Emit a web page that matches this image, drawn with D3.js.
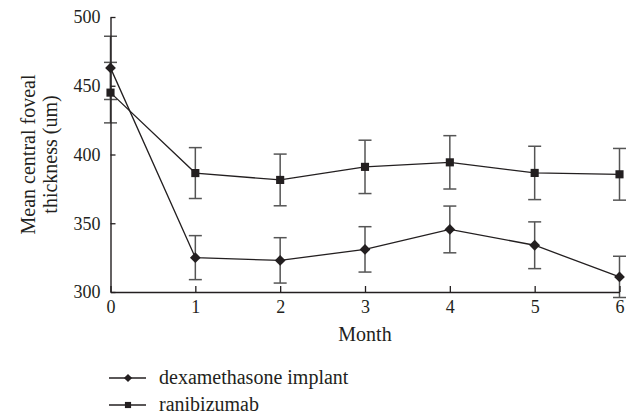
<!DOCTYPE html>
<html>
<head>
<meta charset="utf-8">
<script src="https://cdn.jsdelivr.net/npm/d3@7/dist/d3.min.js"></script>
<style>
  html, body { margin: 0; padding: 0; background: #fff; }
  svg { display: block; }
  text { font-family: "Liberation Serif", "DejaVu Serif", serif; fill: #231f20; }
</style>
</head>
<body>
<svg id="chart" width="635" height="414"></svg>
<script>
const months = [0, 1, 2, 3, 4, 5, 6];
const dexMean = [463, 325, 323, 331, 345.5, 334, 311];
const dexErr  = [23, 16, 16.5, 16.5, 17, 17, 15];
const ranMean = [445, 386.5, 381.5, 391, 394.3, 386.6, 385.6];
const ranErr  = [22, 18.5, 18.8, 19.4, 19.4, 19.4, 18.8];
const yTicks = [300, 350, 400, 450, 500];
const xTicks = [0, 1, 2, 3, 4, 5, 6];
const seriesNames = ["dexamethasone implant", "ranibizumab"];
const xTitle = "Month";
const yTitle = ["Mean central foveal", "thickness (um)"];

const svg = d3.select("#chart");
const ink = "#231f20";
const errInk = "#555555";
const serif = '"Liberation Serif", "DejaVu Serif", serif';

const x = d3.scaleLinear().domain([0, 6]).range([110.5, 619.5]);
const y = d3.scaleLinear().domain([300, 500]).range([292, 17]);

// diamond as a square rotated 45 degrees
const diamondType = {
  draw(ctx, size) {
    const r = Math.sqrt(size / 2);
    ctx.moveTo(0, -r); ctx.lineTo(r, 0); ctx.lineTo(0, r); ctx.lineTo(-r, 0); ctx.closePath();
  }
};

const series = [
  { name: seriesNames[0], mean: dexMean, err: dexErr, shape: diamondType, size: 58, legSize: 34 },
  { name: seriesNames[1], mean: ranMean, err: ranErr, shape: d3.symbolSquare, size: 66, legSize: 38 }
];

// error bars
const gErr = svg.append("g").attr("stroke", errInk).attr("stroke-width", 1.5).attr("fill", "none");
series.forEach(s => {
  months.forEach((m, i) => {
    const cx = x(m), lo = y(s.mean[i] - s.err[i]), hi = y(s.mean[i] + s.err[i]);
    gErr.append("line").attr("x1", cx).attr("x2", cx).attr("y1", lo).attr("y2", hi);
    gErr.append("line").attr("x1", cx - 6.5).attr("x2", cx + 6.5).attr("y1", lo).attr("y2", lo);
    gErr.append("line").attr("x1", cx - 6.5).attr("x2", cx + 6.5).attr("y1", hi).attr("y2", hi);
  });
});

// axes
const yAxis = d3.axisLeft(y).tickValues(yTicks).tickFormat(d3.format("d"))
  .tickSizeInner(-5).tickSizeOuter(0).tickPadding(10);
const gy = svg.append("g").attr("transform", "translate(110.5,0)").call(yAxis);
const xAxis = d3.axisBottom(x).tickValues(xTicks).tickFormat(d3.format("d"))
  .tickSizeInner(-6).tickSizeOuter(0).tickPadding(8);
const gx = svg.append("g").attr("transform", "translate(0,292)").call(xAxis);
[gx, gy].forEach(g => {
  g.attr("font-family", null).attr("font-size", null);
  g.select(".domain").attr("stroke", ink).attr("stroke-width", 1.4);
  g.selectAll(".tick line").attr("stroke", ink).attr("stroke-width", 1.3);
  g.selectAll(".tick text").style("font-family", serif).style("font-size", "18px").attr("fill", ink);
});
gy.selectAll(".tick text").attr("dy", "0.33em");

// lines
const line = d3.line().x((d, i) => x(months[i])).y(d => y(d));
series.forEach(s => {
  svg.append("path").datum(s.mean).attr("d", line)
    .attr("fill", "none").attr("stroke", ink).attr("stroke-width", 1.3);
});

// markers
series.forEach(s => {
  const sym = d3.symbol().type(s.shape).size(s.size);
  svg.append("g").selectAll("path").data(s.mean).join("path")
    .attr("d", sym)
    .attr("transform", (d, i) => `translate(${x(months[i])},${y(d)})`)
    .attr("fill", ink);
});

// titles
svg.append("text").attr("x", (x(0) + x(6)) / 2).attr("y", 341)
  .attr("text-anchor", "middle").style("font-size", "20px").text(xTitle);

const yMid = (y(300) + y(500)) / 2;
svg.append("text").attr("transform", `translate(35,${yMid}) rotate(-90)`)
  .attr("text-anchor", "middle").style("font-size", "20px").text(yTitle[0]);
svg.append("text").attr("transform", `translate(57,${yMid}) rotate(-90)`)
  .attr("text-anchor", "middle").style("font-size", "20px").text(yTitle[1]);

// legend
const legRows = [378, 405];
series.forEach((s, i) => {
  const ly = legRows[i];
  svg.append("line").attr("x1", 109).attr("x2", 146).attr("y1", ly).attr("y2", ly)
    .attr("stroke", ink).attr("stroke-width", 1.3);
  svg.append("path").attr("d", d3.symbol().type(s.shape).size(s.legSize)())
    .attr("transform", `translate(128,${ly})`).attr("fill", ink);
  svg.append("text").attr("x", 159).attr("y", ly).attr("dy", "0.3em")
    .style("font-size", "20px").text(s.name);
});
</script>
</body>
</html>
